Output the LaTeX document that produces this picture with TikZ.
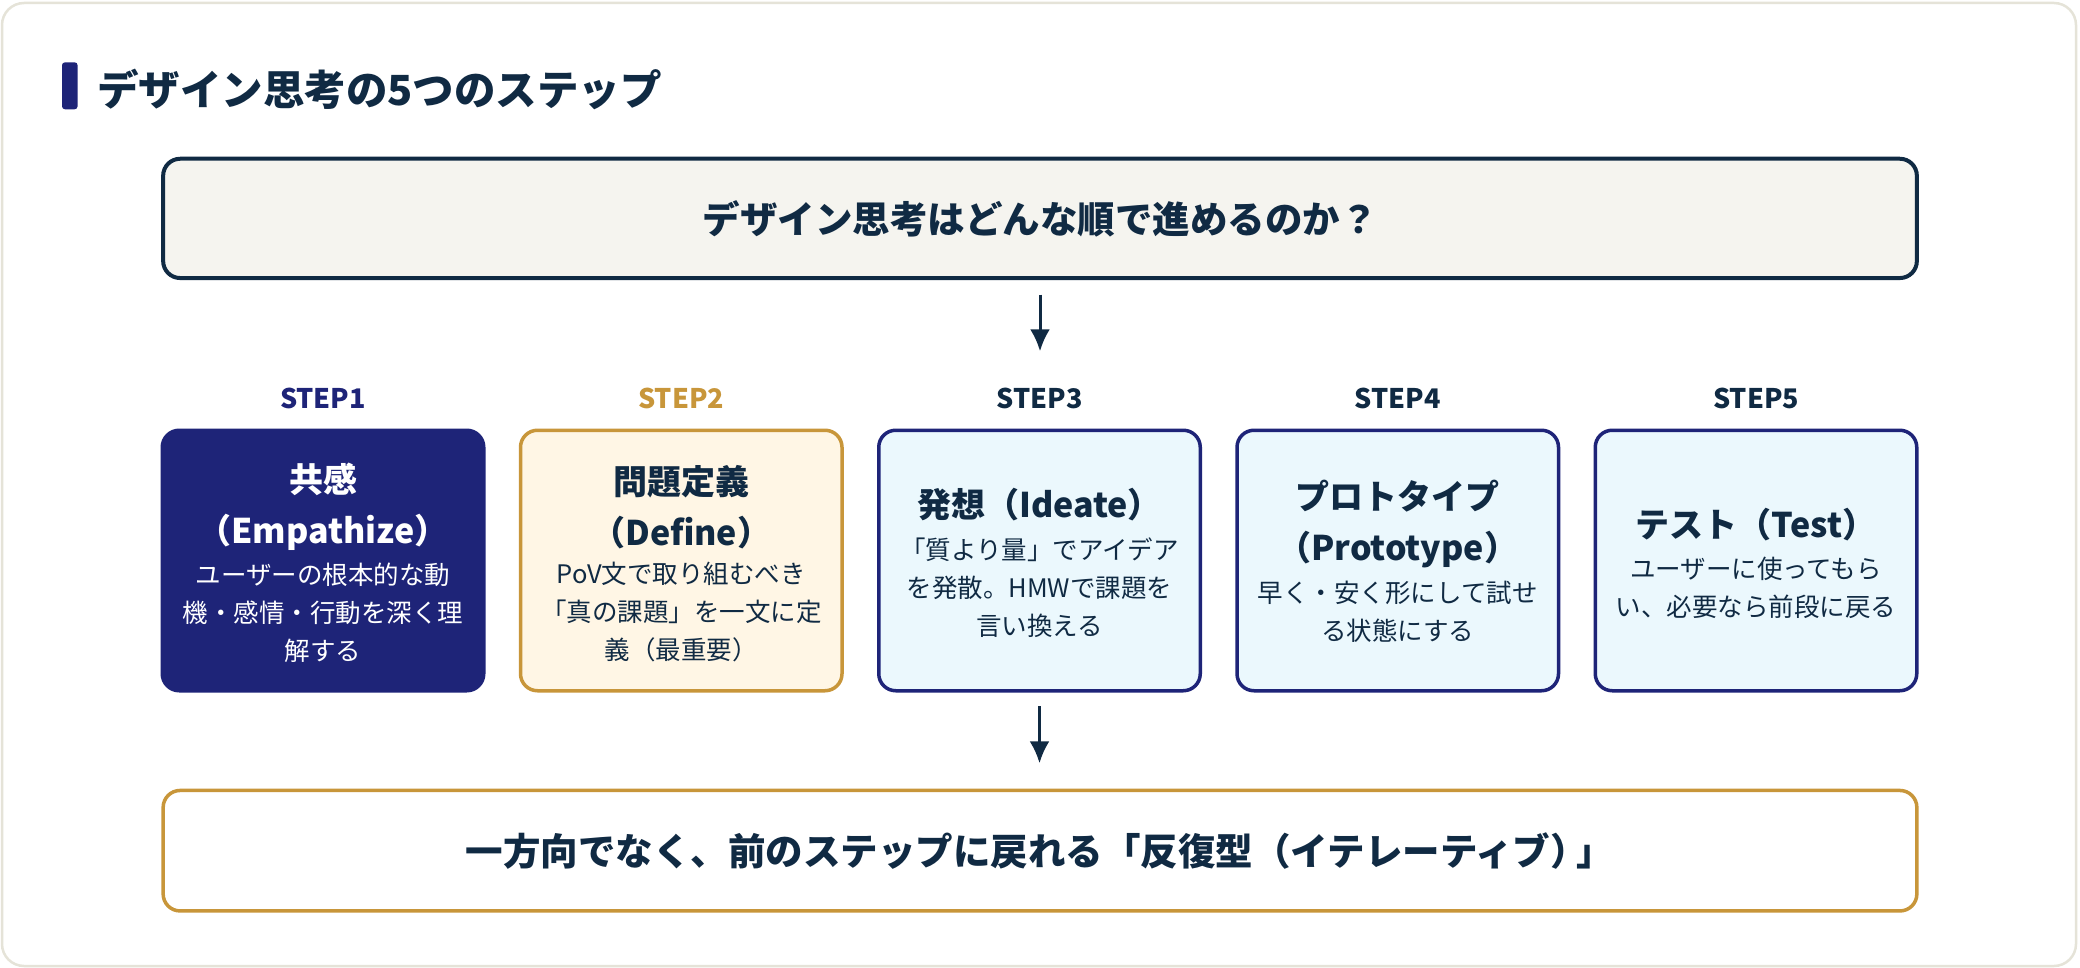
\documentclass[tikz,border=0pt]{standalone}
\usepackage{fontspec}
\setmainfont{Noto Sans CJK JP}
\usetikzlibrary{arrows.meta,positioning}
\definecolor{navyink}{HTML}{102A43}
\definecolor{indigo}{HTML}{1E2478}
\definecolor{ochre}{HTML}{C8963A}
\definecolor{cream}{HTML}{FFF6E5}
\definecolor{sky}{HTML}{EBF8FD}
\definecolor{askfill}{HTML}{F5F4EF}
\definecolor{framec}{HTML}{E5E3D8}
\tikzset{
         frame/.style={draw=framec,line width=2.5pt,fill=white,rounded corners=22pt},
         heading/.style={anchor=west,inner sep=0pt,text=navyink,font=\bfseries\fontsize{41.5}{50}\selectfont},
         askbox/.style={draw=navyink,line width=4pt,fill=askfill,rounded corners=17pt,
                        minimum width=1753.7pt,minimum height=119.3pt,text=navyink,
                        font=\bfseries\fontsize{37.5}{45}\selectfont},
         loopbox/.style={askbox,draw=ochre,line width=3.5pt,fill=white,minimum height=120.5pt},
         steplabel/.style={inner sep=0pt,text height=20pt,text depth=0pt,font=\bfseries\fontsize{27}{32}\selectfont},
         stepbox/.style={line width=3.5pt,rounded corners=17pt,minimum width=321.5pt,minimum height=260.5pt},
         steptitle/.style={align=center,inner sep=0pt,font=\bfseries\fontsize{34}{51}\selectfont},
         stepdesc/.style={align=center,inner sep=0pt,font=\fontsize{25.5}{38}\selectfont},
         flow/.style={draw=navyink,line width=3pt,-{Latex[length=22pt,width=20pt]}}
        }
\begin{document}
\begin{tikzpicture}[x=1pt,y=-1pt]
\useasboundingbox (0,0) rectangle (2080,968);
%outer card
\draw[frame](2,3)rectangle(2076,966);
%heading with bar
\fill[indigo,rounded corners=3pt](62,62.3)rectangle(77.6,109.3);
\node[heading] (head) at (97,89) {デザイン思考の5つのステップ};
%question
\node[askbox] (ask) at (1040,218.4) {デザイン思考はどんな順で進めるのか？};
%step labels
\foreach \i/\c in {1/indigo,2/ochre,3/navyink,4/navyink,5/navyink}
{
\node[steplabel,text=\c] (lab\i) at ({323+(\i-1)*358.25},398) {STEP\i};
}
%step boxes
\foreach \i/\f/\d in {1/indigo/indigo,2/cream/ochre,3/sky/indigo,4/sky/indigo,5/sky/indigo}
{
\node[stepbox,fill=\f,draw=\d] (s\i) at ({323+(\i-1)*358.25},560.5) {};
}
%texts in the boxes
\node[steptitle,text=white] (tt1) at (s1 |- 0,506.7) {共感\\（Empathize）};
\node[stepdesc,text=white] (dt1) at (s1 |- 0,612.5) {ユーザーの根本的な動\\機・感情・行動を深く理\\解する};
\node[steptitle,text=navyink] (tt2) at (s2 |- 0,506.7) {問題定義\\（Define）};
\node[stepdesc,text=navyink] (dt2) at (s2 |- 0,612.5) {PoV文で取り組むべき\\「真の課題」を一文に定\\義（最重要）};
\node[steptitle,text=navyink] (tt3) at (s3 |- 0,505) {発想（Ideate）};
\node[stepdesc,text=navyink] (dt3) at (s3 |- 0,587.5) {「質より量」でアイデア\\を発散。HMWで課題を\\言い換える};
\node[steptitle,text=navyink] (tt4) at (s4 |- 0,524) {プロトタイプ\\（Prototype）};
\node[stepdesc,text=navyink] (dt4) at (s4 |- 0,611.7) {早く・安く形にして試せ\\る状態にする};
\node[steptitle,text=navyink] (tt5) at (s5 |- 0,525) {テスト（Test）};
\node[stepdesc,text=navyink] (dt5) at (s5 |- 0,588) {ユーザーに使ってもら\\い、必要なら前段に戻る};
%conclusion
\node[loopbox] (loop) at (1040,850.7) {一方向でなく、前のステップに戻れる「反復型（イテレーティブ）\kern-0.3em」};
%arrows
\draw[flow,shorten <=14.5pt,shorten >=36.5pt](ask.south)--(ask.south |- lab3.north);
\draw[flow,shorten <=13.5pt,shorten >=25.4pt](s3.south)--(s3.south |- loop.north);
\end{tikzpicture}
\end{document}
